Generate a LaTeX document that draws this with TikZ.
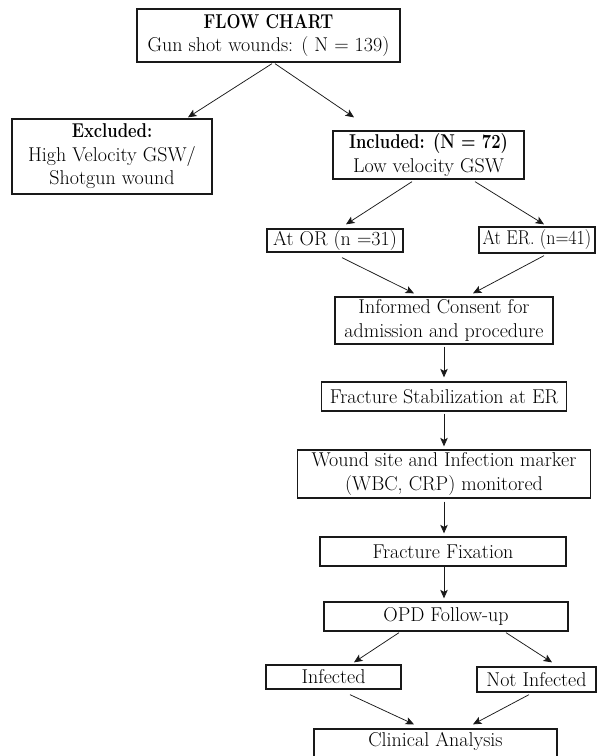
\documentclass[tikz,border=0pt]{standalone}
\usepackage{graphicx}
\usetikzlibrary{arrows.meta,calc}
\newcommand{\bfhead}[1]{\scalebox{0.83}[1]{\bfseries #1}}
\newcommand{\narrowtxt}[1]{\scalebox{0.9}[1]{#1}}
\begin{document}
\begin{tikzpicture}[x=1pt,y=-1pt,
  box/.style={draw=black!90, line width=1.3pt, inner sep=0pt, align=center,
    text=black, font=\fontsize{20}{23.5}\selectfont},
  arr/.style={-{Stealth[length=8.5pt,width=7.5pt,inset=2pt]}, line width=0.75pt, draw=black!90}]
\useasboundingbox (0,0) rectangle (597,756);
\node[box, minimum width=263pt, minimum height=53pt] (top) at (268.5,35.5)
  {\bfhead{FLOW CHART}\\Gun shot wounds: ( N = 139)};
\node[box, minimum width=200pt, minimum height=75pt] (excl) at (112,156.5)
  {\bfhead{Excluded:}\\High Velocity GSW/\\Shotgun wound};
\node[box, minimum width=191pt, minimum height=48pt] (incl) at (428.5,155)
  {\bfhead{Included: (N = 72)}\\Low velocity GSW};
\node[box, minimum width=136pt, minimum height=23pt] (ator) at (335,240.5)
  {At OR (n =31)};
\node[box, minimum width=116pt, minimum height=26pt] (ater) at (537,240)
  {\narrowtxt{At ER. (n=41)}};
\node[box, minimum width=218pt, minimum height=47pt] (cons) at (444,320.5)
  {Informed Consent for\\admission and procedure};
\node[box, minimum width=245pt, minimum height=29pt] (stab) at (444,396.5)
  {Fracture Stabilization at ER};
\node[box, minimum width=293pt, minimum height=48pt] (wound) at (444,474)
  {Wound site and Infection marker\\(WBC, CRP) monitored};
\node[box, minimum width=246pt, minimum height=29pt] (fix) at (443,551.5)
  {Fracture Fixation};
\node[box, minimum width=244pt, minimum height=29pt] (opd) at (446,616.5)
  {OPD Follow-up};
\node[box, minimum width=135pt, minimum height=24pt] (infd) at (333.5,677)
  {Infected};
\node[box, minimum width=119pt, minimum height=25pt] (ninf) at (536.5,679.5)
  {Not Infected};
\node[box, minimum width=243pt, minimum height=32pt, text height=14pt, text depth=11pt] (clin) at (435.5,745)
  {Clinical Analysis};

\draw[arr] ($(top.south)+(3.5,1)$) -- ($(excl.north)+(76,-1)$);
\draw[arr] ($(top.south)+(6.5,1)$) -- ($(incl.north)+(-74.5,-13)$);
\draw[arr] ($(incl.south)+(-16.5,2)$) -- ($(ator.north)+(11,-4)$);
\draw[arr] ($(incl.south)+(46.5,2)$) -- ($(ater.north)+(7,-2)$);
\draw[arr] ($(ator.south)+(7,5)$) -- ($(cons.north)+(-30,-3)$);
\draw[arr] ($(ater.south)+(7,2)$) -- ($(cons.north)+(29,-3)$);
\draw[arr] ($(cons.south)+(0,2)$) -- ($(stab.north)+(0,-4)$);
\draw[arr] ($(stab.south)+(0,2)$) -- ($(wound.north)+(0,-3)$);
\draw[arr] ($(wound.south)+(0,3)$) -- ($(fix.north)+(1,-3)$);
\draw[arr] ($(fix.south)+(1,0)$) -- ($(opd.north)+(-2,-3)$);
\draw[arr] ($(opd.south)+(-47,1)$) -- ($(infd.north)+(20.5,-2)$);
\draw[arr] ($(opd.south)+(60,1)$) -- ($(ninf.north)+(15.5,-4)$);
\draw[arr] ($(infd.south)+(16.5,5)$) -- ($(clin.north)+(-21.5,-4)$);
\draw[arr] ($(ninf.south)+(-7.5,2)$) -- ($(clin.north)+(37.5,-4)$);
\end{tikzpicture}
\end{document}
